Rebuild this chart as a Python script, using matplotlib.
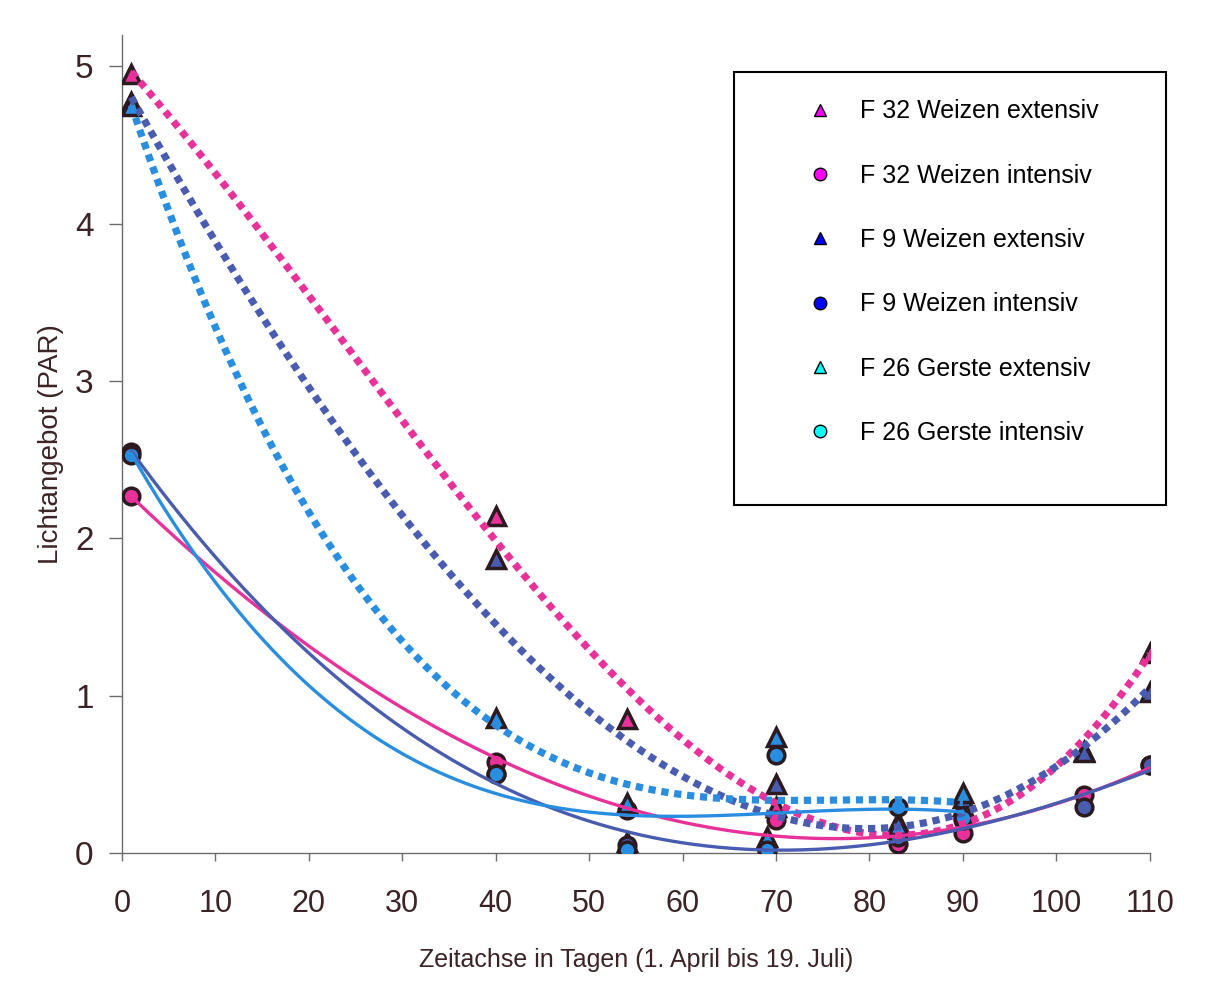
import numpy as np
import matplotlib
matplotlib.use("Agg")
import matplotlib.pyplot as plt
from matplotlib.lines import Line2D
from matplotlib.patches import Rectangle

# Messwerte: Lichtangebot (PAR) je Termin (Tage ab 1. April)
f32_ext_x = [1, 40, 54, 70, 83, 90, 103, 110]
f32_ext_y = [4.95, 2.14, 0.85, 0.29, 0.15, 0.30, 0.65, 1.27]
f32_int_x = [1, 40, 54, 70, 83, 90, 103, 110]
f32_int_y = [2.27, 0.58, 0.27, 0.21, 0.06, 0.13, 0.37, 0.56]
f9_ext_x = [1, 40, 54, 70, 83, 90, 103, 110]
f9_ext_y = [4.77, 1.87, 0.07, 0.44, 0.20, 0.35, 0.64, 1.02]
f9_int_x = [1, 40, 54, 69, 83, 90, 103, 110]
f9_int_y = [2.55, 0.50, 0.05, 0.02, 0.10, 0.21, 0.29, 0.56]
f26_ext_x = [1, 40, 54, 69, 70, 83, 90]
f26_ext_y = [4.75, 0.86, 0.32, 0.10, 0.74, 0.18, 0.38]
f26_int_x = [1, 40, 54, 69, 70, 83, 90]
f26_int_y = [2.53, 0.50, 0.02, 0.02, 0.62, 0.29, 0.22]

labels = ["F 32 Weizen extensiv", "F 32 Weizen intensiv",
          "F 9 Weizen extensiv", "F 9 Weizen intensiv",
          "F 26 Gerste extensiv", "F 26 Gerste intensiv"]

MAG = "#e8329a"
BLU = "#4a5cb0"
CYA = "#2a8ee0"
EDGE = "#2b1a1f"
TXT = "#3b2326"
FONT = "Liberation Sans"

series = [
    (f32_ext_x, f32_ext_y, MAG, "^", "dotted"),
    (f32_int_x, f32_int_y, MAG, "o", "solid"),
    (f9_ext_x, f9_ext_y, BLU, "^", "dotted"),
    (f9_int_x, f9_int_y, BLU, "o", "solid"),
    (f26_ext_x, f26_ext_y, CYA, "^", "dotted"),
    (f26_int_x, f26_int_y, CYA, "o", "solid"),
]

fig = plt.figure(figsize=(12.14, 9.81), dpi=100)
ax = fig.add_axes([0.1005, 0.1305, 0.8466, 0.834])

# Messpunkte
for x, y, c, m, _ in series:
    ax.plot(x, y, linestyle="none", marker=m, markersize=13 if m == "^" else 12,
            markerfacecolor=c, markeredgecolor=EDGE, markeredgewidth=2.5, zorder=3)

# polynomische Trendlinien (3. Grades)
for x, y, c, m, ls in series:
    coef = np.polyfit(x, y, 3)
    xs = np.linspace(min(x), max(x), 300)
    if ls == "dotted":
        ax.plot(xs, np.polyval(coef, xs), color=c, lw=5.2,
                linestyle=(0, (1.0, 0.8)), dash_capstyle="butt", zorder=4)
    else:
        ax.plot(xs, np.polyval(coef, xs), color=c, lw=2.4, zorder=4)

ax.set_xlim(0, 110)
ax.set_ylim(0, 5.2)
ax.set_xticks(range(0, 111, 10))
ax.set_yticks(range(0, 6))
for s in ["top", "right"]:
    ax.spines[s].set_visible(False)
for s in ["left", "bottom"]:
    ax.spines[s].set_color("#6b6b6b")
    ax.spines[s].set_linewidth(1.0)
ax.tick_params(axis="x", direction="out", length=6, width=1.0, color="#6b6b6b", pad=20)
ax.tick_params(axis="y", direction="out", length=9.5, width=1.0, color="#6b6b6b", pad=11)
for t in ax.get_xticklabels():
    t.set_fontfamily(FONT)
    t.set_fontsize(22)
    t.set_color(TXT)
for t in ax.get_yticklabels():
    t.set_fontfamily(FONT)
    t.set_fontsize(24)
    t.set_color(TXT)

ax.set_xlabel("Zeitachse in Tagen (1. April bis 19. Juli)", family=FONT,
              fontsize=18, color=TXT, labelpad=21)
ax.set_ylabel("Lichtangebot (PAR)", family=FONT,
              fontsize=20, color=TXT, labelpad=8)

# Legende mit eigenem Rahmen
box = Rectangle((734 / 1214, 1 - 505 / 981), (1166 - 734) / 1214, (505 - 72) / 981,
                transform=fig.transFigure, fill=True, facecolor="white",
                edgecolor="black", lw=1.5, zorder=5)
fig.patches.append(box)
leg_colors = ["#ff00ff", "#ff00ff", "#0000ff", "#0000ff", "#00ffff", "#00ffff"]
handles = []
for (x, y, c, m, _), lc in zip(series, leg_colors):
    handles.append(Line2D([], [], linestyle="none", marker=m, markersize=9,
                          markerfacecolor=lc, markeredgecolor="black", markeredgewidth=1.0))
leg = fig.legend(handles, labels, loc="upper left", bbox_to_anchor=(782 / 1214, 1 - 77 / 981),
                 frameon=False, labelspacing=1.61, handletextpad=1.0, handlelength=1.2,
                 prop={"family": FONT, "size": 18})
for t in leg.get_texts():
    t.set_color("black")
leg.set_zorder(6)

fig.savefig("out.png", dpi=100, facecolor="white")
